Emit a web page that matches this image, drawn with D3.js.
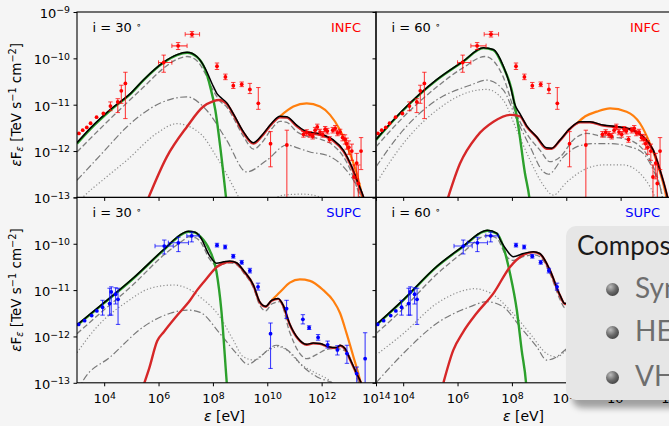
<!DOCTYPE html>
<html>
<head>
<meta charset="utf-8">
<script src="https://cdn.jsdelivr.net/npm/d3@7"></script>
<style>
  body { margin: 0; background: #f5f5f5; overflow: hidden; }
  #wrap { position: relative; width: 669px; height: 426px; overflow: hidden; }
  svg { position: absolute; left: 0; top: 0; font-family: "DejaVu Sans", sans-serif; }
  .legend { position: absolute; left: 566px; top: 226px; width: 260px; height: 174px;
    background: #e6e6e6; border-radius: 10px; box-shadow: 6px 8px 6px rgba(0,0,0,0.35);
    font-family: Lato, "DejaVu Sans", sans-serif; }
  .legend .t { position: absolute; white-space: nowrap; line-height: 28px; }
  .legend .title { left: 11px; top: 5px; color: #1a1a1a; font-size: 26px; }
  .legend .item { left: 69px; color: #6e6e6e; font-size: 28px; }
  .legend .dot { position: absolute; left: 40px; width: 13px; height: 13px; border-radius: 50%;
    background: radial-gradient(circle at 35% 30%, #bdbdbd 0%, #6a6a6a 45%, #2a2a2a 100%); }
</style>
</head>
<body>
<div id="wrap">
<svg id="chart" width="669" height="426"></svg>
<div class="legend">
  <div class="t title">Composition</div>
  <div class="dot" style="top:57px"></div><div class="t item" style="top:47px">Synchrotron</div>
  <div class="dot" style="top:100px"></div><div class="t item" style="top:90px">HE gamma-rays</div>
  <div class="dot" style="top:145px"></div><div class="t item" style="top:135px">VHE gamma-rays</div>
</div>
</div>
<script>
// all values as [log10 E (eV), log10 eF (TeV s^-1 cm^-2)]

// observed points: [logE, logF, logF low, logF high, logE low, logE high]
const infcPts = [
  [3.07,-11.62],[3.21,-11.55],[3.36,-11.49],[3.50,-11.40],[3.72,-11.27],[3.97,-11.19],
  [4.23,-11.03,-11.13,-10.94],[4.50,-10.94,-11.17,-10.87],[4.63,-10.70,-10.97,-10.58],[4.78,-10.54,-11.30,-10.30],
  [6.19,-10.09,-10.30,-9.93,6.00,6.49],[6.72,-9.73,-9.81,-9.66,6.49,7.05],[7.23,-9.48,-9.54,-9.42,6.98,7.51],
  [8.15,-10.17,-10.24,-10.10],[8.46,-10.40,-10.46,-10.34],[8.75,-10.59,-10.65,-10.52],[9.06,-10.56,-10.61,-10.51],
  [9.36,-10.67,-10.76,-10.54],[9.67,-10.97,-11.10,-10.63],[10.12,-11.84,-12.34,-11.58],[10.72,-11.87,-13.6,-11.55],
  [11.33,-11.64,-11.70,-11.58],[11.45,-11.60,-11.66,-11.54],[11.57,-11.64,-11.70,-11.58],[11.67,-11.68,-11.74,-11.62],
  [11.76,-11.55,-11.61,-11.49],[11.84,-11.48,-11.54,-11.42],[11.94,-11.59,-11.65,-11.53],[12.04,-11.64,-11.70,-11.58],
  [12.13,-11.53,-11.59,-11.47],[12.21,-11.57,-11.63,-11.51],[12.29,-11.75,-11.81,-11.69],[12.41,-11.55,-11.61,-11.49],
  [12.50,-11.51,-11.57,-11.45],[12.58,-11.61,-11.67,-11.55],[12.68,-11.59,-11.65,-11.53],[12.77,-11.71,-11.78,-11.64],
  [12.86,-11.75,-11.85,-11.65],[12.92,-11.84,-11.96,-11.72],[13.00,-11.92,-12.07,-11.78],[13.11,-12.00,-12.20,-11.85],
  [13.19,-12.56,-13.20,-12.30],[13.29,-12.26,-12.60,-12.05],[13.35,-12.70,-13.30,-12.30],[13.45,-12.00,-12.40,-11.71]
];
const supcPts = [
  [3.06,-11.74],[3.28,-11.66],[3.54,-11.55],[3.73,-11.45],
  [3.94,-11.37,-11.54,-11.22],[4.20,-11.29,-11.54,-10.96],[4.26,-11.04,-11.54,-10.93],[4.42,-11.09,-11.30,-10.95],
  [4.51,-11.20,-11.74,-10.96],
  [6.21,-10.05,-10.22,-9.92,5.87,6.54],[6.73,-9.98,-10.17,-9.86,6.36,7.10],[7.22,-9.83,-9.96,-9.75,7.04,7.50],
  [8.15,-10.03,-10.07,-9.99],[8.45,-10.07,-10.11,-10.03],[8.75,-10.27,-10.31,-10.23],[9.06,-10.40,-10.44,-10.36],
  [9.36,-10.58,-10.63,-10.53],[9.66,-10.93,-11.00,-10.85],[10.12,-11.94,-12.69,-11.71],[10.71,-11.40,-11.61,-11.22],
  [11.31,-11.63,-11.73,-11.53],[11.54,-11.81,-11.85,-11.77],[11.87,-12.02,-12.08,-11.96],[12.22,-12.18,-12.25,-12.10],
  [12.58,-12.29,-12.40,-12.20],[12.93,-12.37,-12.58,-12.19],[13.29,-12.80,-13.10,-12.66],[13.60,-12.48,-13.05,-11.92]
];

// model curves, i = 30 INFC
const tlSync = [[3,-11.84],[3.5,-11.52],[4.23,-11.12],[5.0,-10.75],[5.45,-10.47],[6.19,-10.09],[6.68,-9.93],[7.05,-9.88],[7.41,-9.97],[7.72,-10.25],[7.9,-10.61],[8.09,-11.12],[8.27,-11.91],[8.5,-13.1]];
const tlTotal = [[3,-11.82],[3.5,-11.50],[4.23,-11.10],[5.0,-10.74],[5.45,-10.46],[6.19,-10.08],[6.68,-9.92],[7.05,-9.87],[7.41,-9.96],[7.72,-10.22],[8.01,-10.60],[8.15,-10.76],[8.26,-10.83],[8.51,-10.96],[8.75,-11.19],[9.12,-11.58],[9.49,-11.82],[9.8,-11.66],[10.16,-11.40],[10.47,-11.25],[10.72,-11.26],[11.08,-11.44],[11.45,-11.58],[11.94,-11.63],[12.43,-11.76],[12.8,-11.98],[13.11,-12.34],[13.35,-12.70],[13.54,-12.99],[13.7,-13.3]];
const tlHE = [[5.6,-13.05],[6.30,-12.13],[7.04,-11.48],[7.65,-11.04],[8.0,-10.93],[8.22,-10.90],[8.51,-10.98],[8.75,-11.21],[9.12,-11.60],[9.49,-11.84],[9.8,-11.68],[10.16,-11.42],[10.47,-11.27],[10.72,-11.28],[11.08,-11.46],[11.45,-11.60],[11.94,-11.65],[12.43,-11.78],[12.8,-12.0],[13.11,-12.36],[13.35,-12.72],[13.54,-13.01],[13.7,-13.3]];
const tlVHE = [[10.47,-11.25],[10.96,-11.04],[11.45,-10.97],[11.94,-11.04],[12.31,-11.22],[12.68,-11.55],[13.04,-12.05],[13.29,-12.48],[13.47,-12.92],[13.55,-13.2]];
const tlDash = [[3,-12.02],[4.23,-11.30],[5.45,-10.62],[6.19,-10.21],[6.68,-10.02],[7.05,-9.96],[7.41,-10.05],[7.72,-10.33],[8.0,-10.68],[8.26,-10.92],[8.51,-11.05],[8.75,-11.28],[9.12,-11.68],[9.5,-11.96],[9.8,-11.82],[10.16,-11.52],[10.47,-11.36],[10.72,-11.38],[11.08,-11.58],[11.45,-11.68],[11.94,-11.74],[12.43,-11.88],[12.8,-12.12],[13.11,-12.48],[13.4,-12.98],[13.5,-13.2]];
const tlDashDot = [[3,-12.63],[4.0,-12.0],[4.83,-11.48],[6.05,-10.97],[7.04,-10.83],[7.77,-11.12],[8.51,-11.77],[9.24,-12.45],[9.98,-12.2],[10.72,-11.87],[11.2,-11.95],[11.57,-12.02],[12.19,-12.09],[12.8,-12.34],[13.29,-12.77],[13.45,-13.0],[13.55,-13.3]];
const tlDot = [[2.9,-13.2],[3.23,-12.99],[4.0,-12.6],[4.83,-12.2],[5.93,-11.62],[6.67,-11.41],[7.53,-11.62],[8.14,-12.13],[8.75,-12.77],[9.0,-13.05],[9.5,-13.4],[10.2,-13.05],[10.6,-12.95],[11.3,-12.93],[12.0,-13.0],[12.5,-13.3]];

// i = 60 INFC
const trSync = [[3,-11.76],[4.0,-11.12],[5.23,-10.47],[6.21,-10.07],[6.95,-9.78],[7.32,-9.82],[7.68,-10.18],[7.99,-10.68],[8.24,-11.48],[8.48,-12.48],[8.64,-13.0],[8.7,-13.3]];
const trTotal = [[3,-11.75],[4.0,-11.11],[5.23,-10.46],[6.21,-10.06],[6.95,-9.77],[7.32,-9.81],[7.68,-10.16],[7.95,-10.62],[8.1,-10.98],[8.3,-11.2],[8.54,-11.45],[8.91,-11.69],[9.28,-11.93],[9.46,-11.94],[9.77,-11.76],[10.14,-11.51],[10.51,-11.37],[10.87,-11.37],[11.36,-11.44],[11.98,-11.48],[12.47,-11.55],[12.83,-11.69],[13.2,-11.98],[13.45,-12.41],[13.69,-12.91],[13.8,-13.2]];
const trHE = [[5.6,-13.1],[6.09,-12.27],[6.70,-11.69],[7.32,-11.37],[7.93,-11.22],[8.3,-11.25],[8.54,-11.47],[8.91,-11.70],[9.28,-11.95],[9.46,-11.95],[9.77,-11.77],[10.14,-11.52],[10.51,-11.38],[10.87,-11.38],[11.36,-11.45],[11.98,-11.49],[12.47,-11.56],[12.83,-11.70],[13.2,-11.99],[13.45,-12.42],[13.69,-12.92],[13.8,-13.2]];
const trVHE = [[10.38,-11.41],[10.7,-11.25],[11.12,-11.15],[11.61,-11.08],[12.22,-11.15],[12.71,-11.40],[13.08,-11.84],[13.39,-12.34],[13.63,-12.85],[13.75,-13.2]];
const trDash = [[3,-11.91],[4.0,-11.27],[5.23,-10.62],[6.21,-10.2],[7.01,-9.96],[7.68,-10.40],[8.05,-11.05],[8.54,-11.62],[9.03,-11.98],[9.40,-12.23],[9.77,-12.13],[10.26,-11.76],[10.75,-11.62],[11.36,-11.69],[12.10,-11.73],[12.59,-11.84],[13.08,-12.20],[13.45,-12.77],[13.6,-13.2]];
const trDashDot = [[3,-12.34],[4.0,-11.55],[5.23,-10.90],[6.46,-10.58],[7.07,-10.47],[7.68,-10.68],[8.18,-11.33],[8.67,-11.91],[9.16,-12.45],[9.35,-12.5],[9.89,-12.13],[10.38,-11.91],[11.0,-11.84],[11.61,-11.84],[12.35,-11.91],[12.83,-12.05],[13.2,-12.41],[13.51,-12.91],[13.6,-13.2]];
const trDot = [[3,-12.70],[4.0,-11.84],[5.23,-11.12],[6.46,-10.72],[7.07,-10.67],[7.68,-10.90],[8.18,-11.55],[8.67,-12.20],[9.16,-12.74],[9.52,-12.95],[10.02,-12.67],[10.63,-12.41],[11.36,-12.30],[12.10,-12.30],[12.71,-12.48],[13.08,-12.77],[13.32,-13.06]];

// i = 30 SUPC
const blSync = [[3,-11.76],[3.85,-11.35],[5.07,-10.75],[6.18,-10.14],[6.9,-9.78],[7.1,-9.74],[7.35,-9.76],[7.53,-9.84],[7.88,-10.14],[8.13,-10.60],[8.31,-11.43],[8.51,-13.0],[8.55,-13.3]];
const blTotal = [[3,-11.75],[3.85,-11.34],[5.07,-10.74],[6.18,-10.13],[6.9,-9.77],[7.1,-9.73],[7.35,-9.75],[7.53,-9.85],[7.88,-10.26],[8.13,-10.42],[8.4,-10.39],[8.62,-10.37],[8.87,-10.41],[9.12,-10.57],[9.49,-10.89],[9.72,-11.25],[9.94,-11.35],[10.16,-11.22],[10.40,-11.18],[10.58,-11.32],[10.82,-11.72],[11.13,-12.04],[11.45,-12.17],[11.69,-12.14],[11.94,-12.15],[12.25,-12.22],[12.55,-12.24],[12.68,-12.19],[12.86,-12.26],[13.04,-12.48],[13.29,-12.80],[13.47,-13.03],[13.6,-13.3]];
const blHE = [[5.45,-13.05],[5.65,-12.7],[5.95,-12.1],[6.2,-11.9],[6.68,-11.55],[7.16,-11.22],[7.42,-11.0],[7.77,-10.75],[8.15,-10.5],[8.5,-10.4],[8.75,-10.39],[8.87,-10.42],[9.12,-10.58],[9.49,-10.90],[9.72,-11.26],[9.94,-11.36],[10.16,-11.23],[10.40,-11.19],[10.58,-11.33],[10.82,-11.73],[11.13,-12.05],[11.45,-12.18],[11.69,-12.15],[11.94,-12.16],[12.25,-12.23],[12.55,-12.25],[12.68,-12.20],[12.86,-12.27],[13.04,-12.49],[13.29,-12.81],[13.47,-13.04],[13.6,-13.3]];
const blVHE = [[10.16,-11.22],[10.47,-11.04],[10.83,-10.84],[11.2,-10.77],[11.57,-10.80],[12.06,-11.0],[12.43,-11.23],[12.68,-11.50],[12.92,-11.94],[13.17,-12.44],[13.41,-12.94],[13.5,-13.2]];
const blDash = [[3,-11.94],[3.85,-11.5],[5.07,-10.88],[6.18,-10.25],[6.92,-9.92],[7.1,-9.85],[7.35,-9.87],[7.53,-9.95],[7.88,-10.33],[8.13,-10.47],[8.62,-10.41],[8.87,-10.45],[9.12,-10.62],[9.49,-10.95],[9.72,-11.32],[9.94,-11.45],[10.16,-11.30],[10.47,-11.25],[10.82,-11.9],[11.2,-12.37],[11.45,-12.48],[11.84,-12.38],[12.19,-12.28],[12.55,-12.26],[12.92,-12.33],[13.17,-12.66],[13.35,-12.98],[13.45,-13.2]];
const blDashDot = [[3.0,-13.2],[3.24,-12.94],[4.23,-12.44],[5.45,-11.79],[6.43,-11.50],[7.05,-11.43],[7.53,-11.48],[8.26,-11.94],[8.87,-12.37],[9.29,-12.60],[9.72,-12.44],[10.34,-12.19],[10.82,-12.33],[11.33,-12.66],[11.82,-12.87],[12.43,-13.02],[12.8,-13.2]];
const blDot = [[3,-12.35],[3.74,-11.79],[4.84,-11.25],[5.70,-10.96],[6.56,-10.89],[7.05,-10.96],[7.53,-11.15],[8.26,-11.58],[8.75,-12.08],[9.12,-12.44],[9.55,-12.51],[9.98,-12.32],[10.40,-12.22],[10.72,-12.30],[11.2,-12.58],[11.82,-12.80],[12.19,-12.91],[12.6,-13.1],[13,-13.3]];

// i = 60 SUPC
const brSync = [[3,-11.76],[4.0,-11.22],[5.23,-10.50],[6.21,-10.06],[6.95,-9.74],[7.1,-9.72],[7.44,-9.78],[7.68,-10.06],[7.93,-10.64],[8.18,-11.43],[8.36,-12.30],[8.52,-13.0],[8.56,-13.3]];
const brTotal = [[3,-11.75],[4.0,-11.21],[5.23,-10.49],[6.21,-10.05],[6.95,-9.73],[7.1,-9.71],[7.44,-9.77],[7.6,-9.95],[7.81,-10.14],[8.05,-10.28],[8.42,-10.21],[8.79,-10.17],[9.03,-10.21],[9.40,-10.57],[9.77,-11.11],[9.95,-11.29],[10.2,-11.25],[10.45,-11.2],[10.65,-11.35],[10.9,-11.75],[11.2,-12.05],[11.5,-12.15],[12.0,-12.12],[12.5,-12.2],[12.9,-12.28],[13.2,-12.6],[13.5,-13.05],[13.6,-13.3]];
const brHE = [[5.48,-13.0],[5.84,-12.30],[6.21,-11.90],[6.70,-11.50],[7.32,-11.07],[7.93,-10.50],[8.42,-10.24],[8.79,-10.18],[9.03,-10.22],[9.40,-10.58],[9.77,-11.12],[9.95,-11.30],[10.2,-11.26],[10.45,-11.21],[10.65,-11.36],[10.9,-11.76],[11.2,-12.06],[11.5,-12.16],[12.0,-12.13],[12.5,-12.21],[12.9,-12.29],[13.2,-12.61],[13.5,-13.06],[13.6,-13.3]];
const brVHE = [[10.2,-11.25],[10.5,-11.05],[10.9,-10.85],[11.3,-10.78],[11.7,-10.82],[12.2,-11.0],[12.6,-11.3],[12.95,-11.9],[13.2,-12.4],[13.45,-12.95]];
const brDash = [[3,-11.94],[4.0,-11.4],[5.23,-10.66],[6.21,-10.18],[6.95,-9.84],[7.1,-9.82],[7.44,-9.88],[7.81,-10.28],[8.05,-10.36],[8.42,-10.28],[8.79,-10.24],[9.03,-10.28],[9.40,-10.64],[9.77,-11.2],[9.95,-11.38],[10.2,-11.33],[10.45,-11.3],[10.9,-11.95],[11.3,-12.4],[11.8,-12.35],[12.5,-12.27],[12.9,-12.35],[13.2,-12.7],[13.4,-13.1]];
const brDashDot = [[3,-13.0],[4.0,-12.37],[5.23,-11.72],[6.46,-11.36],[7.07,-11.25],[7.68,-11.36],[8.30,-11.79],[8.91,-12.22],[9.28,-12.51],[9.65,-12.44],[10.02,-12.26],[10.4,-12.15],[10.9,-12.35],[11.5,-12.7],[12.2,-13.0],[12.6,-13.2]];
const brDot = [[3,-12.40],[4.0,-11.94],[5.23,-11.29],[6.46,-10.98],[6.6,-10.97],[7.2,-11.06],[7.93,-11.43],[8.67,-11.94],[9.28,-12.37],[9.65,-12.44],[10.02,-12.30],[10.5,-12.2],[11.2,-12.5],[12.0,-12.8],[12.6,-13.1]];

const xTickExp = [4, 6, 8, 10, 12, 14];
const yTickExp = [-9, -10, -11, -12, -13];

const svg = d3.select("#chart");
const W = 299, H = 185.4;

const panels = [
  {id: "tl", x0: 77,  y0: 12,    inc: "i = 30 ", tag: "INFC", color: "#ff0000",
   pts: infcPts, c: [tlDot, tlDashDot, tlDash, tlSync, tlVHE, tlHE, tlTotal], yl: yTickExp, xl: false},
  {id: "tr", x0: 376, y0: 12,    inc: "i = 60 ", tag: "INFC", color: "#ff0000",
   pts: infcPts, c: [trDot, trDashDot, trDash, trSync, trVHE, trHE, trTotal], yl: null, xl: false},
  {id: "bl", x0: 77,  y0: 197.4, inc: "i = 30 ", tag: "SUPC", color: "#0000ff",
   pts: supcPts, c: [blDot, blDashDot, blDash, blSync, blVHE, blHE, blTotal], yl: [-10, -11, -12, -13], xl: true},
  {id: "br", x0: 376, y0: 197.4, inc: "i = 60 ", tag: "SUPC", color: "#0000ff",
   pts: supcPts, c: [brDot, brDashDot, brDash, brSync, brVHE, brHE, brTotal], yl: null, xl: true}
];

// dotted, dash-dot, dashed, synchrotron, VHE, HE, total
const styles = [
  {stroke: "#8c8c8c", w: 1.2, dash: "1.2,2.2"},
  {stroke: "#7a7a7a", w: 1.2, dash: "7,2.5,1.5,2.5"},
  {stroke: "#7f7f7f", w: 1.3, dash: "5.5,2.6"},
  {stroke: "#2ca02c", w: 2.4, dash: null},
  {stroke: "#ff7f0e", w: 2.2, dash: null},
  {stroke: "#d62728", w: 2.4, dash: null},
  {stroke: "#000000", w: 1.5, dash: null}
];

function pow10(sel) {
  sel.each(function(d) {
    const n = Math.round(Math.log10(d));
    const t = d3.select(this).text(null);
    t.append("tspan").text("10");
    t.append("tspan").attr("dy", "-0.5em").attr("font-size", "0.72em")
      .text(n < 0 ? "\u2212" + (-n) : n);
  });
}

panels.forEach(p => {
  const x = d3.scaleLog().domain([1e3, 1e14]).range([p.x0, p.x0 + W]);
  const y = d3.scaleLog().domain([1e-13, 1e-9]).range([p.y0 + H, p.y0]);
  const g = svg.append("g");

  svg.append("clipPath").attr("id", "clip-" + p.id)
    .append("rect").attr("x", p.x0).attr("y", p.y0).attr("width", W).attr("height", H);
  const plot = g.append("g").attr("clip-path", "url(#clip-" + p.id + ")");

  const line = d3.line()
    .x(d => x(Math.pow(10, d[0])))
    .y(d => y(Math.pow(10, d[1])))
    .curve(d3.curveMonotoneX);

  p.c.forEach((cv, i) => {
    const s = styles[i];
    plot.append("path").datum(cv)
      .attr("d", line)
      .attr("fill", "none")
      .attr("stroke", s.stroke)
      .attr("stroke-width", s.w)
      .attr("stroke-dasharray", s.dash);
  });

  // data points with error bars
  const pg = plot.append("g").attr("stroke", p.color).attr("fill", p.color);
  p.pts.forEach(d => {
    const px = x(Math.pow(10, d[0])), py = y(Math.pow(10, d[1]));
    if (d.length > 2) {
      const lo = y(Math.pow(10, d[2])), hi = y(Math.pow(10, d[3]));
      pg.append("line").attr("x1", px).attr("x2", px).attr("y1", lo).attr("y2", hi)
        .attr("stroke-width", 1.1).attr("stroke-opacity", 0.75);
      [lo, hi].forEach(v => pg.append("line").attr("x1", px - 2.2).attr("x2", px + 2.2)
        .attr("y1", v).attr("y2", v).attr("stroke-width", 1).attr("stroke-opacity", 0.75));
    }
    if (d.length > 4) {
      const l = x(Math.pow(10, d[4])), r = x(Math.pow(10, d[5]));
      pg.append("line").attr("x1", l).attr("x2", r).attr("y1", py).attr("y2", py)
        .attr("stroke-width", 1.1).attr("stroke-opacity", 0.75);
      [l, r].forEach(v => pg.append("line").attr("x1", v).attr("x2", v)
        .attr("y1", py - 2.2).attr("y2", py + 2.2).attr("stroke-width", 1).attr("stroke-opacity", 0.75));
    }
    pg.append("circle").attr("cx", px).attr("cy", py).attr("r", 1.9).attr("stroke", "none");
  });

  // axes
  const ax = g.append("g").attr("transform", `translate(0,${p.y0 + H})`)
    .call(d3.axisBottom(x).tickValues(xTickExp.map(e => Math.pow(10, e)))
      .tickSize(3.5).tickPadding(3.5));
  ax.select(".domain").remove();
  if (p.xl) {
    ax.selectAll("text").attr("font-size", 13).attr("font-family", "DejaVu Sans")
      .attr("fill", "#000").attr("dy", "1.05em").call(pow10);
  } else {
    ax.selectAll("text").remove();
  }

  const ay = g.append("g").attr("transform", `translate(${p.x0},0)`)
    .call(d3.axisLeft(y).tickValues(yTickExp.map(e => Math.pow(10, e)))
      .tickSize(3.5).tickPadding(3.5));
  ay.select(".domain").remove();
  ay.selectAll("text").attr("font-size", 13).attr("font-family", "DejaVu Sans").attr("fill", "#000")
    .attr("dy", "0.42em")
    .filter(d => !(p.yl && p.yl.includes(Math.round(Math.log10(d))))).remove();
  if (p.yl) ay.selectAll("text").call(pow10);

  g.append("rect").attr("x", p.x0).attr("y", p.y0).attr("width", W).attr("height", H)
    .attr("fill", "none").attr("stroke", "#000").attr("stroke-width", 1.1);

  // panel annotations
  const it = g.append("text").attr("x", p.x0 + 15.5).attr("y", p.y0 + 19.7)
    .attr("font-size", 13).attr("fill", "#000").attr("xml:space", "preserve");
  it.append("tspan").text(p.inc);
  it.append("tspan").attr("dy", "-0.45em").attr("font-size", "0.7em").text("\u2218");
  g.append("text").attr("x", p.x0 + W - 15).attr("y", p.y0 + 19.7)
    .attr("text-anchor", "end").attr("font-size", 13).attr("fill", p.color).text(p.tag);

  if (p.yl) {
    const cy = p.y0 + H / 2;
    const yl = g.append("text").attr("transform", `translate(21,${cy}) rotate(-90)`)
      .attr("text-anchor", "middle").attr("font-size", 13.5).attr("fill", "#000");
    yl.append("tspan").attr("font-style", "italic").text("\u03b5");
    yl.append("tspan").text("F");
    yl.append("tspan").attr("dy", "0.25em").attr("font-size", "0.72em").attr("font-style", "italic").text("\u03b5");
    yl.append("tspan").attr("dy", "-0.18em").text(" [TeV s");
    yl.append("tspan").attr("dy", "-0.5em").attr("font-size", "0.72em").text("\u22121");
    yl.append("tspan").attr("dy", "0.36em").text(" cm");
    yl.append("tspan").attr("dy", "-0.5em").attr("font-size", "0.72em").text("\u22122");
    yl.append("tspan").attr("dy", "0.36em").text("]");
  }
  if (p.xl) {
    const xl = g.append("text").attr("x", p.x0 + W / 2 - 2).attr("y", 421)
      .attr("text-anchor", "middle").attr("font-size", 14).attr("fill", "#000");
    xl.append("tspan").attr("font-style", "italic").text("\u03b5");
    xl.append("tspan").text(" [eV]");
  }
});
</script>
</body>
</html>
